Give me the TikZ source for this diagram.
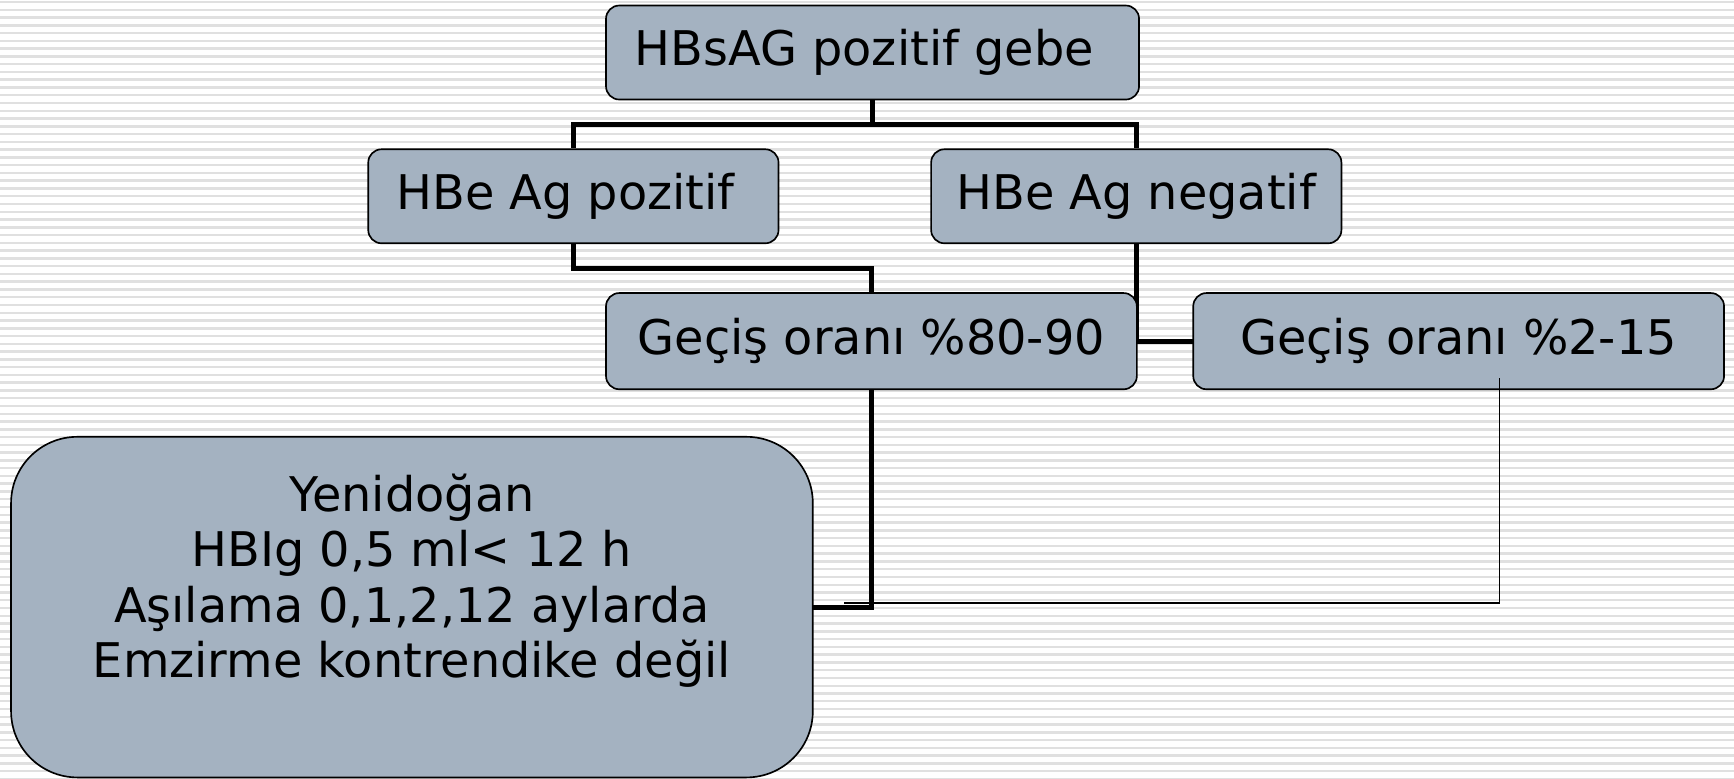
\documentclass[tikz,border=0pt]{standalone}
\usepackage{fontspec}
\setmainfont{DejaVu Sans}
\definecolor{boxfill}{RGB}{164,178,193}
\definecolor{stripecol}{RGB}{224,224,224}
\begin{document}
\begin{tikzpicture}[x=0.5pt,y=-0.5pt,
  box/.style={draw=black, line width=0.75pt, fill=boxfill, rounded corners=6pt, inner sep=0pt,
    font=\fontsize{21.6}{25}\selectfont, text=black},
  plain/.style={font=\fontsize{21.6}{25}\selectfont, text=black, inner sep=0pt},
  link/.style={line width=2.2pt, black},
  thinlink/.style={line width=0.75pt, black},
  stripe/.style={line width=1.1pt, stripecol}]
\useasboundingbox (0,0) rectangle (1568,704);
\fill[white] (0,0) rectangle (1568,704);
\foreach \i in {0,...,100} {
  \draw[stripe] (0,1.8+\i*7.026) -- (1568,1.8+\i*7.026);
}
% nodes
\node[box, minimum width=241pt, minimum height=42.5pt] (top) at (789,47.5) {HBsAG pozitif gebe\kern7.5pt};
\node[box, minimum width=185.5pt, minimum height=42.5pt] (pos) at (518.5,177.5) {HBe Ag pozitif\kern7pt};
\node[box, minimum width=185.5pt, minimum height=42.5pt] (neg) at (1027.5,177.5) {HBe Ag negatif};
% connectors (behind lower boxes)
\draw[link] (top.south) -- ++(0,22) -| (pos.north);
\draw[link] (top.south) -- ++(0,22) -| (neg.north);
\draw[link] (pos.south) -- ++(0,22) -| (788,265);
\draw[link] (neg.south) |- (1079,308.5);
\draw[link] (788,352) |- (735,549);
\node[box, minimum width=240pt, minimum height=43.5pt] (g1) at (788,308.5) {Geçiş oranı \%80-90};
\node[box, minimum width=240pt, minimum height=43.5pt] (g2) at (1319,308.5) {Geçiş oranı \%2-15};
\node[box, rounded corners=30pt, minimum width=362.5pt, minimum height=154pt] (yeni) at (372.5,549) {};
\node[plain, align=center] (yenitext) at (372.5,525) {Yenidoğan\\HBIg 0,5 ml< 12 h\\Aşılama 0,1,2,12 aylarda\\Emzirme kontrendike değil};
% thin connector
\coordinate (tstart) at (1356,342);
\coordinate (tend) at (763,545);
\draw[thinlink] (tstart) |- (tend);
\end{tikzpicture}
\end{document}
